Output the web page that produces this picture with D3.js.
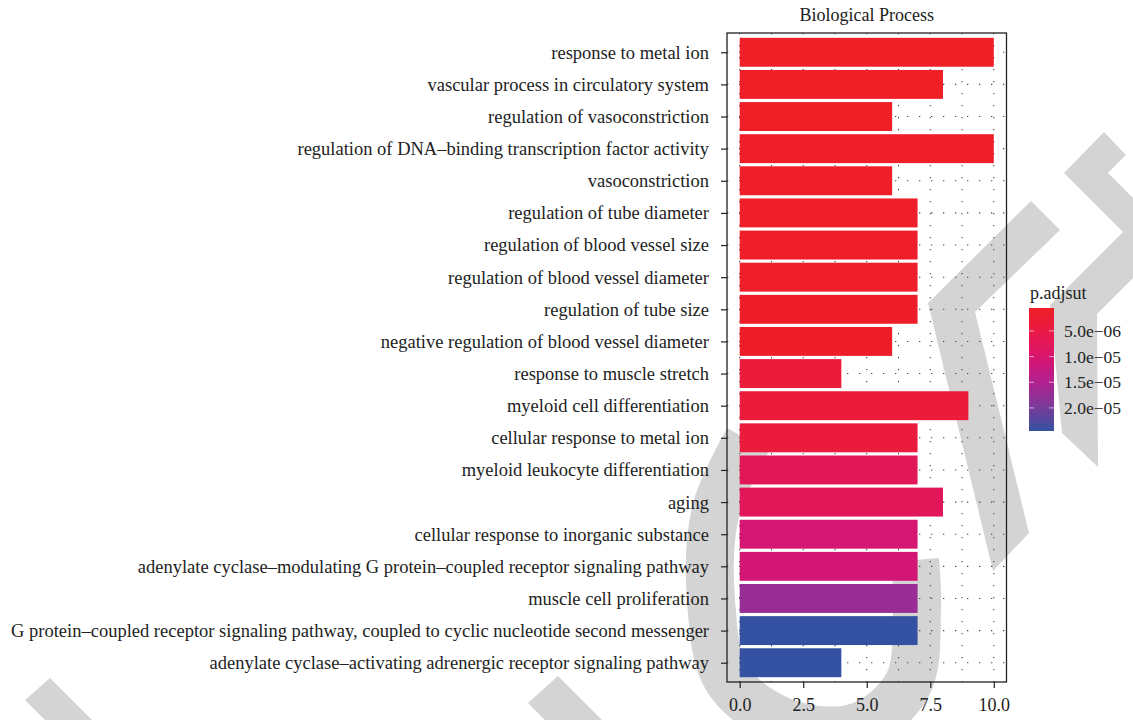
<!DOCTYPE html>
<html><head><meta charset="utf-8">
<script src="https://cdn.jsdelivr.net/npm/d3@7"></script>
<style>
body{margin:0;background:#fff;}
svg text{font-family:"Liberation Serif","Times New Roman",serif;fill:#222;}
</style>
</head><body>
<svg id="chart" width="1133" height="720"></svg>
<script>
// ---------------- data ----------------
const categories = [
  "response to metal ion",
  "vascular process in circulatory system",
  "regulation of vasoconstriction",
  "regulation of DNA–binding transcription factor activity",
  "vasoconstriction",
  "regulation of tube diameter",
  "regulation of blood vessel size",
  "regulation of blood vessel diameter",
  "regulation of tube size",
  "negative regulation of blood vessel diameter",
  "response to muscle stretch",
  "myeloid cell differentiation",
  "cellular response to metal ion",
  "myeloid leukocyte differentiation",
  "aging",
  "cellular response to inorganic substance",
  "adenylate cyclase–modulating G protein–coupled receptor signaling pathway",
  "muscle cell proliferation",
  "G protein–coupled receptor signaling pathway, coupled to cyclic nucleotide second messenger",
  "adenylate cyclase–activating adrenergic receptor signaling pathway"
];
const counts = [10, 8, 6, 10, 6, 7, 7, 7, 7, 6, 4, 9, 7, 7, 8, 7, 7, 7, 7, 4];
const pAdjust = [5.3e-7, 6.0e-7, 7.0e-7, 7.5e-7, 8.0e-7, 8.5e-7, 9.0e-7, 9.0e-7, 9.5e-7, 1.0e-6,
                 3.6e-6, 3.4e-6, 3.8e-6, 7.4e-6, 7.6e-6, 1.05e-5, 1.07e-5, 1.72e-5, 2.45e-5, 2.45e-5];
const xTicks = [0, 2.5, 5, 7.5, 10];
const xMinorTicks = [1.25, 3.75, 6.25, 8.75];
const legendTicks = [5e-6, 1e-5, 1.5e-5, 2e-5];
const gradientColors = ["#EE1F26", "#EA1947", "#D8156F", "#B22190", "#7C3A9A", "#3452A1"];
const titleText = "Biological Process";
const legendTitle = "p.adjsut";

// ---------------- background watermark (decoration of the source image) ----------------
const svg = d3.select("#chart");
const WM = "#D4D4D4";
const wm = svg.append("g").attr("fill", WM);
const wmPolys = [
  [[928,303],[1031,201],[1060,230],[975,312],[1029,533],[993,571]],
  [[1050,305],[1133,222],[1133,278],[1097,314],[1098,467],[1062,433]],
  [[1064,173],[1104,132],[1126,155],[1108,173],[1133,198],[1133,242]],
  [[528,703],[558,676],[602,720],[545,720]],
  [[25,700],[50,678],[92,720],[45,720]]
];
wm.selectAll("polygon").data(wmPolys).join("polygon")
  .attr("points", d => d.map(p => p.join(",")).join(" "));
const arcPts = [[748,440],[716,510],[711,600],[728,680],[790,724],[860,726],[908,684],[917,610],[915,560]];
wm.append("path").attr("d", d3.line().curve(d3.curveCatmullRom)(arcPts))
  .attr("fill", "none").attr("stroke", WM).attr("stroke-width", 48);

// ---------------- layout ----------------
const P = {left: 727, right: 1006.5, top: 33, bottom: 682};
const pMin = d3.min(pAdjust), pMax = d3.max(pAdjust);
const FONT = '"Liberation Serif","Times New Roman",serif';

const x = d3.scaleLinear().domain([-0.5, 10.5]).range([P.left, P.right]);
const y = d3.scalePoint().domain(categories).range([P.top, P.bottom]).padding(0.6);
const barH = y.step() * 0.9;

const color = d3.scaleLinear()
  .domain(gradientColors.map((c, i) => pMin + (pMax - pMin) * i / (gradientColors.length - 1)))
  .range(gradientColors)
  .interpolate(d3.interpolateRgb);

// grid (dotted)
const grid = svg.append("g").attr("stroke", "#444").attr("stroke-width", 1.1).attr("stroke-dasharray", "1.3 10.7");
grid.selectAll("line.v").data(xTicks.concat(xMinorTicks)).join("line")
  .attr("x1", d => x(d)).attr("x2", d => x(d)).attr("y1", P.top).attr("y2", P.bottom);
grid.selectAll("line.h").data(categories).join("line")
  .attr("x1", P.left).attr("x2", P.right).attr("y1", d => y(d)).attr("y2", d => y(d));

// bars
svg.append("g").selectAll("rect").data(categories).join("rect")
  .attr("x", x(0))
  .attr("y", d => y(d) - barH / 2)
  .attr("width", (d, i) => x(counts[i]) - x(0))
  .attr("height", barH)
  .attr("fill", (d, i) => color(pAdjust[i]));

// panel border
svg.append("rect").attr("x", P.left).attr("y", P.top)
  .attr("width", P.right - P.left).attr("height", P.bottom - P.top)
  .attr("fill", "none").attr("stroke", "#222").attr("stroke-width", 1.3);

// y axis
const yAxis = d3.axisLeft(y).tickSize(6).tickPadding(12);
const gy = svg.append("g").attr("transform", `translate(${P.left},0)`).call(yAxis);
gy.select(".domain").remove();
gy.selectAll(".tick line").attr("stroke", "#222").attr("stroke-width", 1.2);
gy.selectAll(".tick text").attr("font-size", 18.5).attr("fill", "#222").style("font-family", FONT);

// x axis
const xAxis = d3.axisBottom(x).tickValues(xTicks).tickFormat(d3.format(".1f")).tickSize(6).tickPadding(10);
const gx = svg.append("g").attr("transform", `translate(0,${P.bottom})`).call(xAxis);
gx.select(".domain").remove();
gx.selectAll(".tick line").attr("stroke", "#222").attr("stroke-width", 1.2);
gx.selectAll(".tick text").attr("font-size", 18).attr("fill", "#222").style("font-family", FONT);

// title
svg.append("text").attr("x", (P.left + P.right) / 2).attr("y", 21)
  .attr("text-anchor", "middle").attr("font-size", 18).text(titleText);

// legend
const L = {x: 1029, y: 308, w: 25, h: 123};
const ly = d3.scaleLinear().domain([pMin, pMax]).range([L.y, L.y + L.h]);
const defs = svg.append("defs");
const grad = defs.append("linearGradient").attr("id", "pgrad")
  .attr("x1", 0).attr("y1", 0).attr("x2", 0).attr("y2", 1);
d3.range(0, 1.0001, 0.05).forEach(t => {
  grad.append("stop").attr("offset", t).attr("stop-color", color(pMin + t * (pMax - pMin)));
});
svg.append("text").attr("x", L.x + 1).attr("y", 299).attr("font-size", 18).text(legendTitle);
svg.append("rect").attr("x", L.x).attr("y", L.y).attr("width", L.w).attr("height", L.h)
  .attr("fill", "url(#pgrad)");
const lt = svg.append("g");
lt.selectAll("line.l").data(legendTicks).join("line")
  .attr("x1", L.x).attr("x2", L.x + 5).attr("y1", d => ly(d)).attr("y2", d => ly(d))
  .attr("stroke", "#fff").attr("stroke-opacity", 0.6).attr("stroke-width", 1);
lt.selectAll("line.r").data(legendTicks).join("line")
  .attr("x1", L.x + L.w - 5).attr("x2", L.x + L.w).attr("y1", d => ly(d)).attr("y2", d => ly(d))
  .attr("stroke", "#fff").attr("stroke-opacity", 0.6).attr("stroke-width", 1);
const fmt = d => d.toExponential(1).replace("e-", "e−0").replace("e+", "e+0");
lt.selectAll("text").data(legendTicks).join("text")
  .attr("x", L.x + L.w + 10).attr("y", d => ly(d)).attr("dy", "0.35em")
  .attr("font-size", 17.5).text(fmt);
</script>
</body></html>
